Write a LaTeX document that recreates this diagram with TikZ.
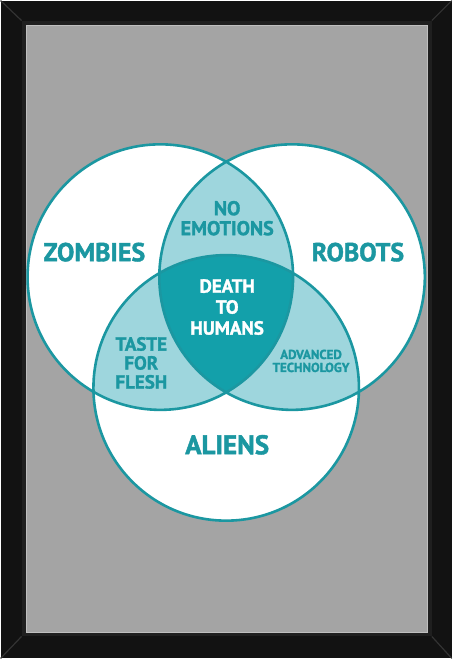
\documentclass[tikz,border=0pt]{standalone}
\usepackage{fontspec}
\setmainfont{PT Sans}[BoldFeatures={FakeBold=1.6}]
\usepackage{tikz}
\usetikzlibrary{calc}
\definecolor{teal1}{HTML}{1B97A1}
\definecolor{teal2}{HTML}{13A0AA}
\definecolor{lens}{HTML}{9ED6DD}
\definecolor{wall}{HTML}{A4A4A4}
\def\fs#1#2{\fontsize{#1}{#2}\selectfont}

\begin{document}
\begin{tikzpicture}[x=1pt,y=-1pt,
    set/.style={circle,minimum size=266pt,inner sep=0pt},
    txt/.style={text=teal1,font=\bfseries\fs{26}{28},align=center},
    sub/.style={text=teal1,font=\bfseries\fs{19}{19},align=center}]
    % frame and wall
    \fill[black!93] (0,0) rectangle (452,659);
    \fill[black!88] (21,20) rectangle (432,637);
    \draw[black!80,line width=1.2pt] (0,0) -- (21,20) (452,0) -- (432,20)
    (0,659) -- (21,637) (452,659) -- (432,637);
    \fill[wall] (25,24) rectangle (428,633);
    \draw[black!25,line width=0.8pt] (25.5,24.5) rectangle (427.5,632.5);
    % the three sets
    \draw
    (160,277) node[set](Z) {}
    (292,277) node[set](R) {}
    (226,388) node[set](A) {};
    \fill[white] (Z) circle (133) (R) circle (133) (A) circle (133);
    \begin{scope}
      \clip (Z) circle (133);
      \fill[lens] (R) circle (133) (A) circle (133);
    \end{scope}
    \begin{scope}
      \clip (R) circle (133);
      \fill[lens] (A) circle (133);
    \end{scope}
    \begin{scope}
      \clip (Z) circle (133);
      \clip (R) circle (133);
      \fill[teal2] (A) circle (133);
    \end{scope}
    \draw[teal1,line width=2.6pt] (Z) circle (133) (R) circle (133) (A) circle (133);
    % labels
    \draw
    (94,252) node[txt](zombies) {ZOMBIES}
    (358,252) node[txt](robots) {ROBOTS}
    (227,445) node[txt,font=\bfseries\fs{27}{28}](aliens) {ALIENS}
    (227,218) node[sub,font=\bfseries\fs{20}{20}](noemo) {NO\\EMOTIONS}
    (227,307) node[sub,text=white,font=\bfseries\fs{19}{21}](death) {DEATH\\TO\\HUMANS}
    (141,363) node[sub](flesh) {TASTE\\FOR\\FLESH}
    (311,361) node[sub,font=\bfseries\fs{13}{13}](tech) {ADVANCED\\TECHNOLOGY};
  \end{tikzpicture}
\end{document}
